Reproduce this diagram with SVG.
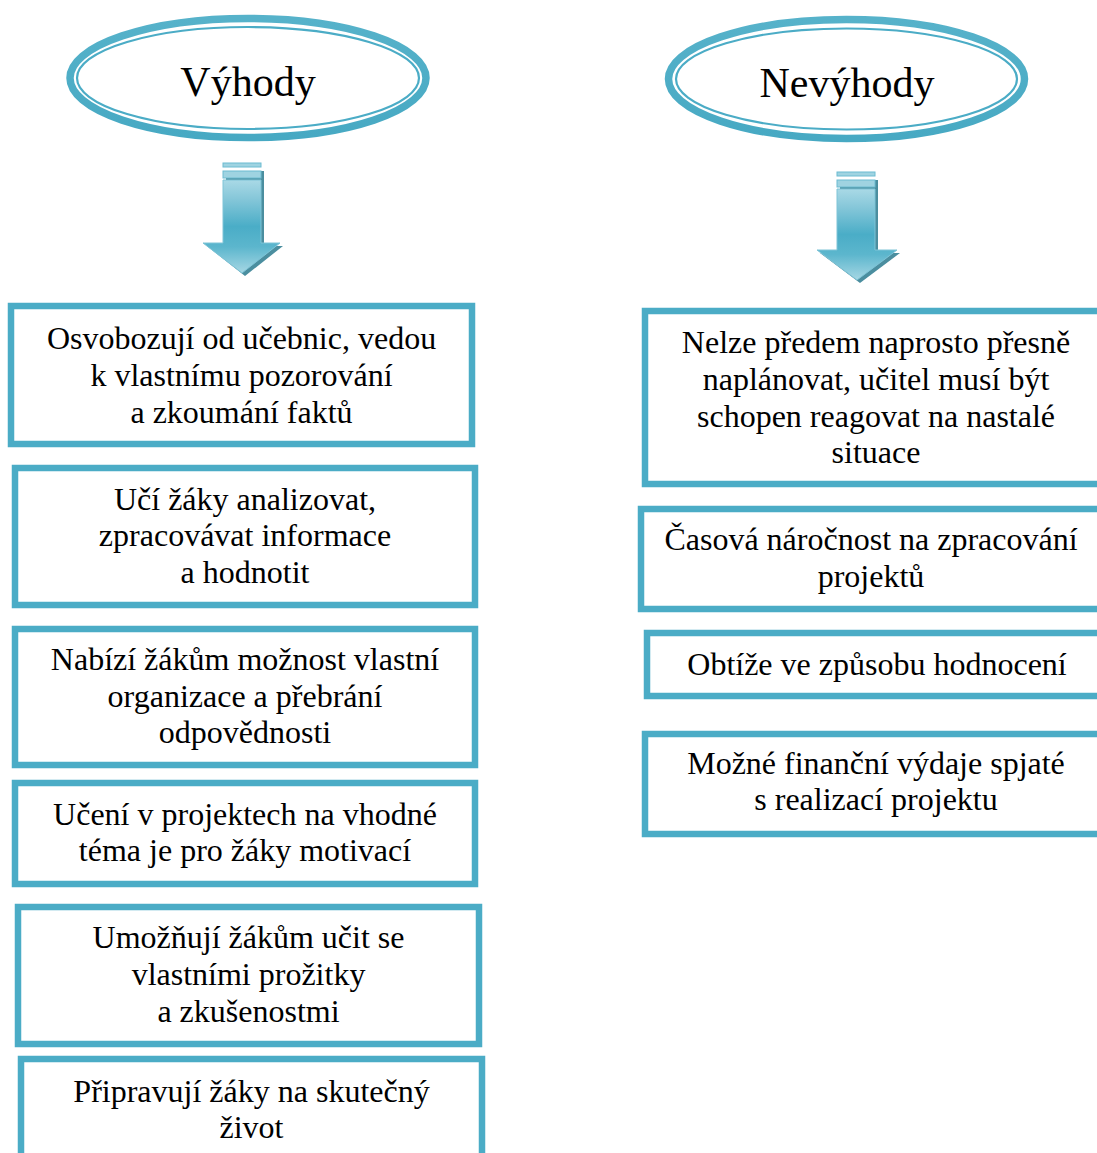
<svg xmlns="http://www.w3.org/2000/svg" width="1097" height="1153" viewBox="0 0 1097 1153">
<defs>
<linearGradient id="arrowGrad" x1="0" y1="0" x2="0" y2="1">
<stop offset="0" stop-color="#a9d9e6"/>
<stop offset="0.2" stop-color="#86c7d9"/>
<stop offset="0.5" stop-color="#4aadc7"/>
<stop offset="0.72" stop-color="#5cb6cd"/>
<stop offset="1" stop-color="#a6d7e4"/>
</linearGradient>
<linearGradient id="ringGrad" x1="0" y1="0" x2="0" y2="1">
<stop offset="0" stop-color="#56b2ca"/>
<stop offset="1" stop-color="#47a9c3"/>
</linearGradient>
<style>
.box{fill:#ffffff;stroke:#4BACC6;stroke-width:6.5}
.t{font-family:"Liberation Serif","Times New Roman",serif;font-size:32px;fill:#000;text-anchor:middle}
.title{font-family:"Liberation Serif","Times New Roman",serif;font-size:42px;fill:#000;text-anchor:middle}
.ringO{fill:#ffffff;stroke:url(#ringGrad);stroke-width:7.5}
.ringI{fill:none;stroke:#4BACC6;stroke-width:2.2}
.arr{fill:url(#arrowGrad);stroke:#7fc4d7;stroke-width:1}
.shadow{fill:#2b7a8e;opacity:0.85}
.stripe{fill:#9fd3e1;stroke:#6cbcd1;stroke-width:1}
</style>
</defs>
<rect width="1097" height="1153" fill="#ffffff"/>

<g id="node-vyhody">
<ellipse class="ringO" cx="248" cy="78" rx="178" ry="59.5"/>
<ellipse class="ringI" cx="248" cy="78" rx="171" ry="51"/>
<text class="title" x="248" y="96">Výhody</text>
</g>

<g id="node-nevyhody">
<ellipse class="ringO" cx="846.5" cy="79" rx="178" ry="59.5"/>
<ellipse class="ringI" cx="846.5" cy="79" rx="170.5" ry="50.5"/>
<text class="title" x="847" y="97">Nevýhody</text>
</g>

<g id="connectors">
<g id="arrow-left">
<path class="shadow" d="M226,171 H264 V246 H283 L245,276 L207,246 H226 Z"/>
<rect class="stripe" x="223" y="163" width="38" height="4"/>
<rect class="stripe" x="223" y="171" width="38" height="7"/>
<path class="arr" d="M223,180 H261 V243 H280 L242,273 L203,243 H223 Z"/>
</g>
<g id="arrow-right">
<path class="shadow" d="M840,180 H878 V253 H900 L860,283 L820,253 H840 Z"/>
<rect class="stripe" x="837" y="172" width="38" height="4"/>
<rect class="stripe" x="837" y="180" width="38" height="7"/>
<path class="arr" d="M837,189 H875 V250 H897 L857,280 L817,250 H837 Z"/>
</g>
</g>

<g id="node-l1">
<rect class="box" x="11" y="306" width="461" height="138"/>
<text class="t" x="241.5" y="349">Osvobozují od učebnic, vedou</text>
<text class="t" x="241.5" y="386">k vlastnímu pozorování</text>
<text class="t" x="241.5" y="423">a zkoumání faktů</text>
</g>

<g id="node-l2">
<rect class="box" x="15" y="468" width="460" height="137"/>
<text class="t" x="245" y="510">Učí žáky analizovat,</text>
<text class="t" x="245" y="546">zpracovávat informace</text>
<text class="t" x="245" y="583">a hodnotit</text>
</g>

<g id="node-l3">
<rect class="box" x="15" y="629" width="460" height="136"/>
<text class="t" x="245" y="670">Nabízí žákům možnost vlastní</text>
<text class="t" x="245" y="707">organizace a přebrání</text>
<text class="t" x="245" y="743">odpovědnosti</text>
</g>

<g id="node-l4">
<rect class="box" x="15" y="783" width="460" height="101"/>
<text class="t" x="245" y="825">Učení v projektech na vhodné</text>
<text class="t" x="245" y="861">téma je pro žáky motivací</text>
</g>

<g id="node-l5">
<rect class="box" x="18" y="907" width="461" height="137"/>
<text class="t" x="248.5" y="948">Umožňují žákům učit se</text>
<text class="t" x="248.5" y="985">vlastními prožitky</text>
<text class="t" x="248.5" y="1022">a zkušenostmi</text>
</g>

<g id="node-l6">
<rect class="box" x="21" y="1059" width="461" height="140"/>
<text class="t" x="251.5" y="1102">Připravují žáky na skutečný</text>
<text class="t" x="251.5" y="1138">život</text>
</g>

<g id="node-r1">
<rect class="box" x="645" y="311" width="462" height="173"/>
<text class="t" x="876" y="353">Nelze předem naprosto přesně</text>
<text class="t" x="876" y="390">naplánovat, učitel musí být</text>
<text class="t" x="876" y="427">schopen reagovat na nastalé</text>
<text class="t" x="876" y="463">situace</text>
</g>

<g id="node-r2">
<rect class="box" x="641" y="509" width="462" height="100"/>
<text class="t" x="871" y="550">Časová náročnost na zpracování</text>
<text class="t" x="871" y="587">projektů</text>
</g>

<g id="node-r3">
<rect class="box" x="647" y="633" width="462" height="63"/>
<text class="t" x="877" y="675">Obtíže ve způsobu hodnocení</text>
</g>

<g id="node-r4">
<rect class="box" x="645" y="734" width="462" height="100"/>
<text class="t" x="876" y="774">Možné finanční výdaje spjaté</text>
<text class="t" x="876" y="810">s realizací projektu</text>
</g>
</svg>
